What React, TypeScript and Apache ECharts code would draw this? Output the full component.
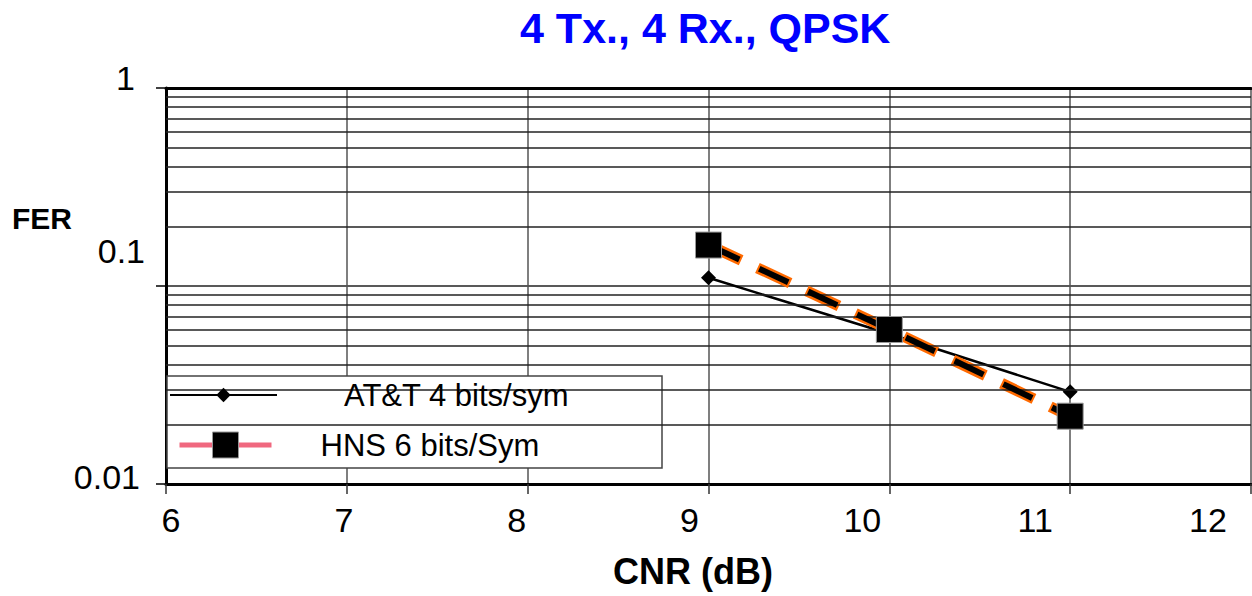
import React, { useEffect, useRef } from "react";
import * as echarts from "echarts";

// ---- data ----
const CNR_TICKS = [6, 7, 8, 9, 10, 11, 12];
const CNR_POINTS = [9, 10, 11];
const ATT_FER = [0.11, 0.0574, 0.0292];
const HNS_FER = [0.161, 0.0603, 0.022];
const FER_MINOR_GRID = [
  0.02, 0.03, 0.04, 0.05, 0.06, 0.07, 0.08, 0.09,
  0.2, 0.3, 0.4, 0.5, 0.6, 0.7, 0.8, 0.9,
];
const FER_TICK_LABELS = ["0.01", "0.1", "1"];
const TITLE = "4 Tx., 4 Rx., QPSK";
const X_NAME = "CNR (dB)";
const Y_NAME = "FER";
const ATT_NAME = "AT&T 4 bits/sym";
const HNS_NAME = "HNS 6 bits/Sym";

const FONT = '"Liberation Sans", Arial, Helvetica, sans-serif';

export default function App() {
  const ref = useRef<HTMLDivElement>(null);

  useEffect(() => {
    if (!ref.current) return;
    const chart = echarts.init(ref.current, undefined, { renderer: "svg" });

    // x label drift (labels are slightly compressed vs ticks in the reference)
    const xRich: Record<string, any> = {};
    CNR_TICKS.forEach((v) => {
      const shift = 5 - 8 * (v - 6);
      xRich["s" + v] = {
        fontSize: 34,
        fontFamily: FONT,
        color: "#000",
        lineHeight: 34,
        padding: shift > 0 ? [0, 0, 0, 2 * shift] : [0, -2 * shift, 0, 0],
      };
    });

    const yRich = {
      a: { fontSize: 34, fontFamily: FONT, color: "#000", lineHeight: 34, padding: [0, 31, 20, 0] },
      b: { fontSize: 34, fontFamily: FONT, color: "#000", lineHeight: 34, padding: [0, 21, 70, 0] },
      c: { fontSize: 34, fontFamily: FONT, color: "#000", lineHeight: 34, padding: [0, 26, 14, 0] },
    };

    chart.setOption({
      animation: false,
      backgroundColor: "#fff",
      title: {
        text: TITLE,
        left: 520,
        top: 6,
        padding: 0,
        textStyle: { color: "#0000ff", fontSize: 43, fontWeight: "bold", fontFamily: FONT },
      },
      grid: {
        left: 166,
        right: 1,
        top: 88,
        bottom: 112,
        containLabel: false,
        outerBoundsMode: "none",
      },
      xAxis: [
        {
          type: "value",
          min: 6,
          max: 12,
          interval: 1,
          position: "bottom",
          axisLine: { show: true, onZero: false, lineStyle: { color: "#000", width: 3 } },
          axisTick: { show: true, length: 10, lineStyle: { color: "#333", width: 1.5 } },
          splitLine: { show: true, lineStyle: { color: "#555", width: 1.5 } },
          axisLabel: {
            margin: 19,
            formatter: (v: number) => `{s${v}|${v}}`,
            rich: xRich,
          },
        },
        {
          type: "value",
          min: 6,
          max: 12,
          interval: 1,
          position: "top",
          axisLine: { show: true, onZero: false, lineStyle: { color: "#000", width: 3 } },
          axisTick: { show: false },
          axisLabel: { show: false },
          splitLine: { show: false },
        },
      ],
      yAxis: {
        type: "log",
        logBase: 10,
        min: 0.01,
        max: 1,
        axisLine: { show: true, onZero: false, lineStyle: { color: "#000", width: 3 } },
        axisTick: { show: true, length: 10, lineStyle: { color: "#000", width: 1.5 } },
        splitLine: { show: true, lineStyle: { color: "#222", width: 1.5 } },
        axisLabel: {
          margin: 0,
          formatter: (v: number) => {
            const e = Math.round(Math.log10(v));
            if (e === 0) return `{a|${FER_TICK_LABELS[2]}}`;
            if (e === -1) return `{b|${FER_TICK_LABELS[1]}}`;
            return `{c|${FER_TICK_LABELS[0]}}`;
          },
          rich: yRich,
        },
      },
      legend: [
        {
          data: [ATT_NAME],
          left: 169,
          top: 379,
          padding: 0,
          itemWidth: 107,
          itemHeight: 18,
          selectedMode: false,
          z: 6,
          textStyle: { fontSize: 31, fontFamily: FONT, color: "#000", lineHeight: 32, padding: [0, 0, 0, 62] },
        },
        {
          data: [
            {
              name: HNS_NAME,
              lineStyle: { color: "#f0687f", width: 5, type: "solid", dashOffset: 0 },
              itemStyle: { color: "#000", borderColor: "#999", borderWidth: 1 },
            },
          ],
          left: 177,
          top: 429,
          padding: 0,
          itemWidth: 92,
          itemHeight: 32.5,
          selectedMode: false,
          z: 6,
          textStyle: { fontSize: 31, fontFamily: FONT, color: "#000", lineHeight: 32, padding: [0, 0, 0, 44] },
        },
      ],
      graphic: [
        {
          type: "rect",
          z: 3,
          shape: { x: 167, y: 376, width: 495, height: 92 },
          style: { fill: "#fff", stroke: "#444", lineWidth: 1.5 },
        },
        {
          type: "text",
          x: 42,
          y: 218,
          style: {
            text: Y_NAME,
            font: `bold 30px ${FONT}`,
            fill: "#000",
            align: "center",
            verticalAlign: "middle",
          },
        },
        {
          type: "text",
          x: 693,
          y: 571,
          style: {
            text: X_NAME,
            font: `bold 36px ${FONT}`,
            fill: "#000",
            align: "center",
            verticalAlign: "middle",
          },
        },
      ],
      series: [
        {
          name: "minor-grid",
          type: "line",
          data: [],
          z: 1,
          silent: true,
          markLine: {
            silent: true,
            symbol: ["none", "none"],
            label: { show: false },
            lineStyle: { color: "#222", width: 1.5, type: "solid" },
            emphasis: { disabled: true },
            data: FER_MINOR_GRID.map((v) => ({ yAxis: v })),
          },
        },
        {
          name: ATT_NAME,
          type: "line",
          z: 3,
          data: CNR_POINTS.map((x, i) => [x, ATT_FER[i]]),
          symbol: "diamond",
          symbolSize: 15,
          itemStyle: { color: "#000" },
          lineStyle: { color: "#000", width: 2.5 },
        },
        {
          name: "HNS-outline",
          type: "line",
          z: 4,
          data: CNR_POINTS.map((x, i) => [x, HNS_FER[i]]),
          symbol: "none",
          lineStyle: { color: "#ff6a00", width: 11, type: [36, 18], cap: "butt" },
        },
        {
          name: HNS_NAME,
          type: "line",
          z: 5,
          data: CNR_POINTS.map((x, i) => [x, HNS_FER[i]]),
          symbol: "rect",
          symbolSize: 26,
          itemStyle: { color: "#000", borderColor: "#999", borderWidth: 1 },
          lineStyle: { color: "#000", width: 6, type: [32, 22], dashOffset: -2, cap: "butt" },
        },
      ],
    });

    return () => chart.dispose();
  }, []);

  return (
    <div
      ref={ref}
      style={{ position: "fixed", left: 0, top: 0, width: 1252, height: 596, background: "#fff" }}
    />
  );
}
